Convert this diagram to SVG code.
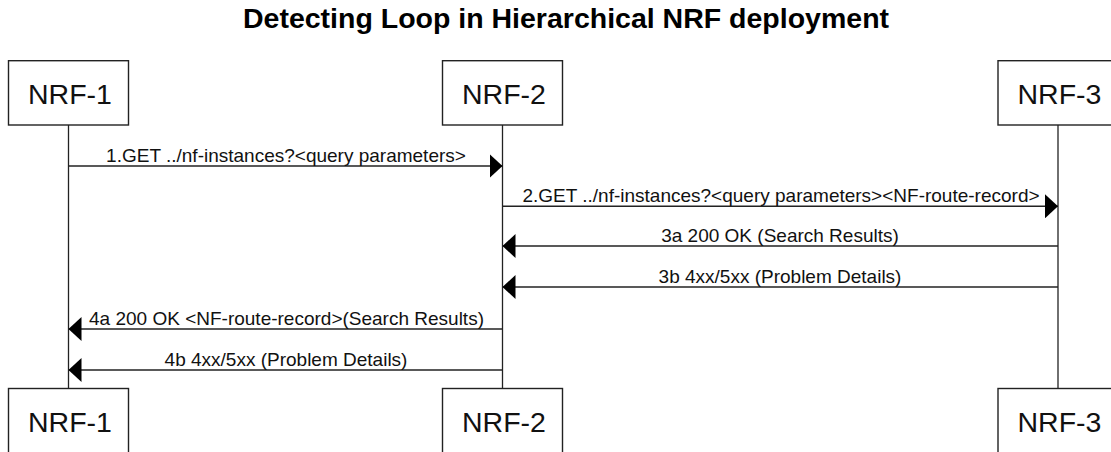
<svg xmlns="http://www.w3.org/2000/svg" width="1111" height="452" viewBox="0 0 1111 452">
<style>
.box{fill:#fff;stroke:#222;stroke-width:1.4}
.name{font-family:"Liberation Sans",Arial,sans-serif;font-size:28.5px;fill:#111;text-anchor:middle}
.life{stroke:#222;stroke-width:1.3;fill:none}
.msg{stroke:#222;stroke-width:1.4;fill:none;marker-end:url(#ah)}
.lbl{font-family:"Liberation Sans",Arial,sans-serif;font-size:19px;fill:#111;text-anchor:middle}
.title{font-family:"Liberation Sans",Arial,sans-serif;font-size:28.5px;font-weight:bold;fill:#000;text-anchor:middle}
</style>
<defs>
<marker id="ah" viewBox="0 0 13 24" refX="13" refY="12" markerWidth="13" markerHeight="24" markerUnits="userSpaceOnUse" orient="auto">
<path d="M0,0 L13,12 L0,24 Z" fill="#000"/>
</marker>
</defs>
<rect width="1111" height="452" fill="#fff"/>
<text class="title" x="566" y="28">Detecting Loop in Hierarchical NRF deployment</text>
<g id="lifelines">
<line class="life" x1="68.5" y1="125" x2="68.5" y2="388.5"/>
<line class="life" x1="502.5" y1="125" x2="502.5" y2="388.5"/>
<line class="life" x1="1058" y1="125" x2="1058" y2="388.5"/>
</g>
<g id="nrf1-top"><rect class="box" x="8.5" y="60.7" width="120" height="64.3"/><text class="name" x="70" y="104.3">NRF-1</text></g>
<g id="nrf2-top"><rect class="box" x="442.5" y="60.7" width="120" height="64.3"/><text class="name" x="504" y="104.3">NRF-2</text></g>
<g id="nrf3-top"><rect class="box" x="998" y="60.7" width="120" height="64.3"/><text class="name" x="1059.5" y="104.3">NRF-3</text></g>
<g id="nrf1-bottom"><rect class="box" x="8.5" y="388.5" width="120" height="64.3"/><text class="name" x="70" y="432">NRF-1</text></g>
<g id="nrf2-bottom"><rect class="box" x="442.5" y="388.5" width="120" height="64.3"/><text class="name" x="504" y="432">NRF-2</text></g>
<g id="nrf3-bottom"><rect class="box" x="998" y="388.5" width="120" height="64.3"/><text class="name" x="1059.5" y="432">NRF-3</text></g>
<g id="connectors">
<line class="msg" x1="68.5" y1="166" x2="502.5" y2="166"/>
<text class="lbl" x="286" y="161.5">1.GET ../nf-instances?&lt;query parameters&gt;</text>
<line class="msg" x1="502.5" y1="206.3" x2="1058" y2="206.3"/>
<text class="lbl" x="781" y="202">2.GET ../nf-instances?&lt;query parameters&gt;&lt;NF-route-record&gt;</text>
<line class="msg" x1="1058" y1="246" x2="502.5" y2="246"/>
<text class="lbl" x="780" y="242">3a 200 OK (Search Results)</text>
<line class="msg" x1="1058" y1="287" x2="502.5" y2="287"/>
<text class="lbl" x="780" y="282.5">3b 4xx/5xx (Problem Details)</text>
<line class="msg" x1="502.5" y1="329" x2="68.5" y2="329"/>
<text class="lbl" x="286.5" y="324.5">4a 200 OK &lt;NF-route-record&gt;(Search Results)</text>
<line class="msg" x1="502.5" y1="370" x2="68.5" y2="370"/>
<text class="lbl" x="286" y="365.5">4b 4xx/5xx (Problem Details)</text>
</g>
</svg>
